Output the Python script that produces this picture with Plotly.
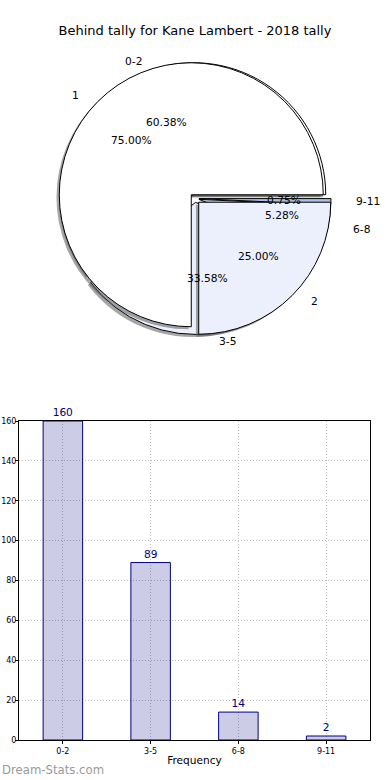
import numpy as np
import plotly.graph_objects as go

# ---------------- data ----------------
title_text = "Behind tally for Kane Lambert - 2018 tally"
range_labels = ["0-2", "3-5", "6-8", "9-11"]
range_counts = [160, 89, 14, 2]
half_labels = ["1", "2"]
half_counts = [3, 1]
bar_categories = ["0-2", "3-5", "6-8", "9-11"]
bar_values = [160, 89, 14, 2]
y_ticks = [0, 20, 40, 60, 80, 100, 120, 140, 160]
x_title = "Frequency"
watermark = "Dream-Stats.com"

# ---------------- style / layout constants ----------------
W, H = 390, 780
FONT = "DejaVu Sans"
CX, CY = 195.0, 198.5          # pie centre (px from top-left)
R = 132.0                       # pie radius (px)
RX_T, RY_T = 141.0, 128.0       # radii used for label placement
range_explode = [0.03, 0.03, 0.03, 0.03]
half_explode = [0.04, 0.04]
range_colors = ["#ffffff", "#ebf0fc", "#c4d3ee", "#a9bfe3"]
half_colors = ["#ffffff", "#ebf0fc"]
SHADOW = "rgba(77,77,77,0.5)"
SH_DX, SH_DY = -2.8, 2.6


def pie_domain(pull, dx=0.0, dy=0.0):
    half = R * (1 + max(pull))
    return dict(x=[(CX + dx - half) / W, (CX + dx + half) / W],
                y=[1 - (CY + dy + half) / H, 1 - (CY + dy - half) / H])


def start_rotation(values):
    # first slice begins at 3 o'clock and runs counter-clockwise
    return 90 - 360.0 * values[0] / float(sum(values))


def pie_trace(values, labels, pull, colors, shadow=False):
    dx, dy = (SH_DX, SH_DY) if shadow else (0.0, 0.0)
    return go.Pie(
        values=values, labels=labels, sort=False, direction="counterclockwise",
        rotation=start_rotation(values), pull=pull,
        marker=dict(colors=[SHADOW] * len(values) if shadow else colors,
                    line=dict(color="black", width=0 if shadow else 1)),
        textinfo="none", hoverinfo="skip", showlegend=False,
        domain=pie_domain(pull, dx, dy),
    )


def pie_annotations(values, labels, explode):
    tot = float(sum(values))
    cum = 0.0
    out = []
    for v, lab, e in zip(values, labels, explode):
        frac = v / tot
        th = 2 * np.pi * (cum + frac / 2)
        c, s = np.cos(th), np.sin(th)
        bx = CX + e * c * RX_T
        by = CY - e * s * RY_T
        out.append(dict(x=(bx + 1.1 * c * RX_T) / W, y=1 - (by - 1.1 * s * RY_T) / H,
                        text=lab, xanchor="left" if c > 0 else "right"))
        out.append(dict(x=(bx + 0.6 * c * RX_T) / W, y=1 - (by - 0.6 * s * RY_T) / H,
                        text=f"{frac * 100:.2f}%", xanchor="center"))
        cum += frac
    for a in out:
        a.update(xref="paper", yref="paper", yanchor="middle", showarrow=False,
                 font=dict(family=FONT, size=10.7, color="black"))
    return out


fig = go.Figure()
fig.add_trace(pie_trace(range_counts, range_labels, range_explode, range_colors, shadow=True))
fig.add_trace(pie_trace(range_counts, range_labels, range_explode, range_colors))
fig.add_trace(pie_trace(half_counts, half_labels, half_explode, half_colors, shadow=True))
fig.add_trace(pie_trace(half_counts, half_labels, half_explode, half_colors))

fig.add_trace(go.Bar(
    x=bar_categories, y=bar_values, width=0.45,
    marker=dict(color="rgba(0,0,128,0.2)", line=dict(color="#000080", width=1)),
    text=bar_values, texttemplate="%{y}", textposition="outside",
    textfont=dict(color="#000080", size=10.6, family=FONT),
    cliponaxis=False, hoverinfo="skip", showlegend=False,
))

axis_common = dict(
    showline=True, linecolor="black", linewidth=1, mirror=True,
    ticks="outside", ticklen=3, tickcolor="black",
    tickfont=dict(family=FONT, size=8, color="black"),
    showgrid=True, gridcolor="#bdbdbd", griddash="1px,2px", gridwidth=1,
    zeroline=False, fixedrange=True, automargin=False,
)

annotations = pie_annotations(range_counts, range_labels, range_explode)
annotations += pie_annotations(half_counts, half_labels, half_explode)
annotations.append(dict(
    text=watermark, x=0, xanchor="left", y=1 - 769.5 / H, yanchor="middle",
    xref="paper", yref="paper", showarrow=False,
    font=dict(family=FONT, size=11.7, color="#9a9a9a"),
))

fig.update_layout(
    width=W, height=H, autosize=False,
    margin=dict(l=0, r=0, t=0, b=0, autoexpand=False),
    paper_bgcolor="white", plot_bgcolor="white",
    font=dict(family=FONT, color="black"),
    title=dict(text=title_text, x=0.5, xanchor="center", xref="paper",
               y=1 - 30 / H, yref="container", yanchor="middle",
               font=dict(family=FONT, size=13, color="black")),
    xaxis=dict(axis_common, domain=[19 / W, 370 / W], anchor="y", type="category",
               categoryorder="array", categoryarray=bar_categories, range=[-0.5, 3.5],
               title=dict(text=x_title, standoff=1,
                          font=dict(family=FONT, size=10.6, color="black"))),
    yaxis=dict(axis_common, domain=[(H - 740) / H, (H - 421) / H], anchor="x",
               range=[0, 160], tickvals=y_ticks, ticklabelstandoff=-3),
    annotations=annotations,
    showlegend=False,
)

fig.write_html(
    "out.html",
    config={"displayModeBar": False},
    post_script="document.body.style.margin='0px';document.body.style.overflow='hidden';",
)
